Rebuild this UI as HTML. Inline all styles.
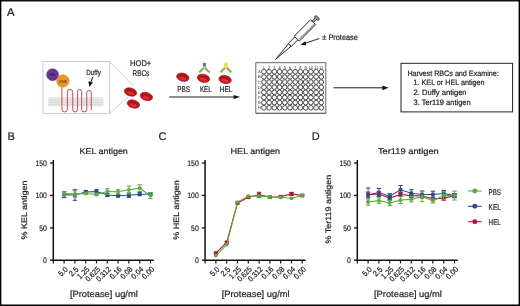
<!DOCTYPE html>
<html><head><meta charset="utf-8"><style>
html,body{margin:0;padding:0;background:#fff;width:520px;height:306px;overflow:hidden;}
svg{display:block;will-change:transform;}
text{font-family:"Liberation Sans",sans-serif;fill:#231f20;stroke:#231f20;stroke-width:0.22px;}
</style></head><body>
<svg width="520" height="306" viewBox="0 0 520 306" text-rendering="geometricPrecision">
<rect x="0" y="0" width="520" height="306" fill="#fff"/>

<rect x="0" y="0" width="520" height="1.5" fill="#111"/>
<rect x="0" y="304.5" width="520" height="1.5" fill="#000"/>
<rect x="0" y="0" width="1.35" height="306" fill="#000"/>
<rect x="518.6" y="0" width="1.4" height="306" fill="#000"/>
<text x="6.9" y="16.2" font-size="11.3" >A</text>
<text x="7.5" y="140.1" font-size="11.0" >B</text>
<text x="158.6" y="140.0" font-size="11.0" >C</text>
<text x="311.7" y="140.0" font-size="11.0" >D</text>
<rect x="43" y="61.5" width="66.5" height="52" fill="none" stroke="#b9c8e6" stroke-width="0.9"/>
<line x1="109.5" y1="61.5" x2="134" y2="86.6" stroke="#b9c8e6" stroke-width="0.9"/>
<line x1="109.5" y1="113.5" x2="128.5" y2="96.5" stroke="#b9c8e6" stroke-width="0.9"/>
<defs><pattern id="mem" x="0" y="0" width="1.7" height="2.3" patternUnits="userSpaceOnUse"><circle cx="0.85" cy="1.15" r="0.55" fill="#cdcdcd"/></pattern></defs>
<rect x="48.4" y="97.2" width="55" height="9.2" fill="#e6e6e6"/>
<rect x="48.4" y="98.1" width="55" height="7.4" fill="url(#mem)"/>
<path d="M61.9 86 V109.15 A2.75 2.75 0 0 0 67.4 109.15 V92.1 A2.675 2.675 0 0 1 72.75 92.1 V109.5 A2.425 2.425 0 0 0 77.6 109.5 V91.4 A2 2 0 0 1 81.6 91.4 V109.3 A2.575 2.575 0 0 0 86.75 109.3 V92.75 A2.25 2.25 0 0 1 91.25 92.75 V110.3" fill="none" stroke="#c94a55" stroke-width="1"/>
<circle cx="52.6" cy="74.7" r="6" fill="#663692" stroke="#582a82" stroke-width="0.5"/>
<circle cx="62.9" cy="81.0" r="6.2" fill="#e8961f" stroke="#d8861a" stroke-width="0.5"/>
<text x="52.5" y="76.4" font-size="4.3" textLength="6.6" lengthAdjust="spacingAndGlyphs" text-anchor="middle" fill="#2a1838" style="stroke:none">HEL</text>
<text x="62.9" y="82.6" font-size="4.3" textLength="7.6" lengthAdjust="spacingAndGlyphs" text-anchor="middle" fill="#4a2a08" style="stroke:none">OVA</text>
<text x="86.3" y="74.7" font-size="7.4" textLength="14.5" lengthAdjust="spacingAndGlyphs" >Duffy</text>
<line x1="92.8" y1="76.8" x2="90.8" y2="82.4" stroke="#111" stroke-width="1.0"/>
<path d="M88.4 81.3 L89.3 87.0 L92.9 82.6 Z" fill="#111"/>
<g transform="translate(130.5 92) rotate(15)"><ellipse cx="0" cy="0" rx="6.3" ry="4.0" fill="#c4181f" stroke="#990d13" stroke-width="0.6"/><ellipse cx="0.2" cy="1.2" rx="3.4650000000000003" ry="1.52" fill="#d83a3c" opacity="0.7"/><path d="M-4.284 0.2 A4.284 2.2 0 0 1 4.284 0.2" fill="none" stroke="#8f0b10" stroke-width="0.8"/></g>
<g transform="translate(146.4 96.5) rotate(15)"><ellipse cx="0" cy="0" rx="6.3" ry="4.0" fill="#c4181f" stroke="#990d13" stroke-width="0.6"/><ellipse cx="0.2" cy="1.2" rx="3.4650000000000003" ry="1.52" fill="#d83a3c" opacity="0.7"/><path d="M-4.284 0.2 A4.284 2.2 0 0 1 4.284 0.2" fill="none" stroke="#8f0b10" stroke-width="0.8"/></g>
<g transform="translate(133.4 104) rotate(15)"><ellipse cx="0" cy="0" rx="6.3" ry="4.0" fill="#c4181f" stroke="#990d13" stroke-width="0.6"/><ellipse cx="0.2" cy="1.2" rx="3.4650000000000003" ry="1.52" fill="#d83a3c" opacity="0.7"/><path d="M-4.284 0.2 A4.284 2.2 0 0 1 4.284 0.2" fill="none" stroke="#8f0b10" stroke-width="0.8"/></g>
<text x="140.7" y="66.3" font-size="8.3" textLength="21.2" lengthAdjust="spacingAndGlyphs" text-anchor="middle" >HOD+</text>
<text x="140.9" y="76.1" font-size="8.3" textLength="16.7" lengthAdjust="spacingAndGlyphs" text-anchor="middle" >RBCs</text>
<g transform="translate(182.8 77.2) rotate(14)"><ellipse cx="0" cy="0" rx="6.3" ry="4.0" fill="#c4181f" stroke="#990d13" stroke-width="0.6"/><ellipse cx="0.2" cy="1.2" rx="3.4650000000000003" ry="1.52" fill="#d83a3c" opacity="0.7"/><path d="M-4.284 0.2 A4.284 2.2 0 0 1 4.284 0.2" fill="none" stroke="#8f0b10" stroke-width="0.8"/></g>
<g transform="translate(203.5 78.3) rotate(12)"><ellipse cx="0" cy="0" rx="6.3" ry="4.0" fill="#c4181f" stroke="#990d13" stroke-width="0.6"/><ellipse cx="0.2" cy="1.2" rx="3.4650000000000003" ry="1.52" fill="#d83a3c" opacity="0.7"/><path d="M-4.284 0.2 A4.284 2.2 0 0 1 4.284 0.2" fill="none" stroke="#8f0b10" stroke-width="0.8"/></g>
<g transform="translate(225.1 79.5) rotate(12)"><ellipse cx="0" cy="0" rx="6.3" ry="4.0" fill="#c4181f" stroke="#990d13" stroke-width="0.6"/><ellipse cx="0.2" cy="1.2" rx="3.4650000000000003" ry="1.52" fill="#d83a3c" opacity="0.7"/><path d="M-4.284 0.2 A4.284 2.2 0 0 1 4.284 0.2" fill="none" stroke="#8f0b10" stroke-width="0.8"/></g>
<text x="177.2" y="91.9" font-size="8.2" textLength="12.8" lengthAdjust="spacingAndGlyphs" >PBS</text>
<text x="200" y="91.9" font-size="8.2" textLength="11.6" lengthAdjust="spacingAndGlyphs" >KEL</text>
<text x="219.7" y="91.9" font-size="8.2" textLength="12.8" lengthAdjust="spacingAndGlyphs" >HEL</text>
<g><rect x="202.9" y="62.9" width="3.0" height="5.8" fill="#4a78c0"/><rect x="202.9" y="66.3" width="3.0" height="2.4" fill="#a9bfe0"/><line x1="203.5" y1="68.2" x2="199.1" y2="72.5" stroke="#80b460" stroke-width="2.2"/><line x1="205.3" y1="68.2" x2="209.70000000000002" y2="72.5" stroke="#80b460" stroke-width="2.2"/><line x1="203.1" y1="68.3" x2="201.6" y2="69.8" stroke="#e39a3a" stroke-width="1.9"/><line x1="205.70000000000002" y1="68.3" x2="207.20000000000002" y2="69.8" stroke="#e39a3a" stroke-width="1.9"/><line x1="204.20000000000002" y1="68.1" x2="204.20000000000002" y2="69.3" stroke="#ffffff" stroke-width="0.8" opacity="0.7"/></g>
<g><rect x="224.4" y="62.6" width="3.0" height="5.8" fill="#e8d82a"/><rect x="224.4" y="66.0" width="3.0" height="2.4" fill="#efe48a"/><line x1="225.0" y1="67.9" x2="220.6" y2="72.2" stroke="#80b460" stroke-width="2.2"/><line x1="226.8" y1="67.9" x2="231.20000000000002" y2="72.2" stroke="#80b460" stroke-width="2.2"/><line x1="224.6" y1="68.0" x2="223.1" y2="69.5" stroke="#e39a3a" stroke-width="1.9"/><line x1="227.20000000000002" y1="68.0" x2="228.70000000000002" y2="69.5" stroke="#e39a3a" stroke-width="1.9"/><line x1="225.70000000000002" y1="67.8" x2="225.70000000000002" y2="69.0" stroke="#ffffff" stroke-width="0.8" opacity="0.7"/></g>
<line x1="169.2" y1="97" x2="235" y2="97" stroke="#111" stroke-width="0.95"/>
<path d="M233.6 94.9 L240.2 97 L233.6 99.1 Z" fill="#111"/>
<rect x="255.8" y="62.7" width="70" height="50.5" fill="#fff" stroke="#555" stroke-width="0.9"/>
<line x1="256" y1="113.4" x2="326" y2="113.4" stroke="#666" stroke-width="0.9"/>
<text x="263.9" y="68.5" font-size="4.0" text-anchor="middle" fill="#222" style="stroke:none">1</text>
<circle cx="263.90" cy="71.75" r="2.3" fill="none" stroke="#363636" stroke-width="0.9"/>
<circle cx="263.90" cy="76.90" r="2.3" fill="none" stroke="#363636" stroke-width="0.9"/>
<circle cx="263.90" cy="82.05" r="2.3" fill="none" stroke="#363636" stroke-width="0.9"/>
<circle cx="263.90" cy="87.20" r="2.3" fill="none" stroke="#363636" stroke-width="0.9"/>
<circle cx="263.90" cy="92.35" r="2.3" fill="none" stroke="#363636" stroke-width="0.9"/>
<circle cx="263.90" cy="97.50" r="2.3" fill="none" stroke="#363636" stroke-width="0.9"/>
<circle cx="263.90" cy="102.65" r="2.3" fill="none" stroke="#363636" stroke-width="0.9"/>
<circle cx="263.90" cy="107.80" r="2.3" fill="none" stroke="#363636" stroke-width="0.9"/>
<text x="269.12" y="68.5" font-size="4.0" text-anchor="middle" fill="#222" style="stroke:none">2</text>
<circle cx="269.12" cy="71.75" r="2.3" fill="none" stroke="#363636" stroke-width="0.9"/>
<circle cx="269.12" cy="76.90" r="2.3" fill="none" stroke="#363636" stroke-width="0.9"/>
<circle cx="269.12" cy="82.05" r="2.3" fill="none" stroke="#363636" stroke-width="0.9"/>
<circle cx="269.12" cy="87.20" r="2.3" fill="none" stroke="#363636" stroke-width="0.9"/>
<circle cx="269.12" cy="92.35" r="2.3" fill="none" stroke="#363636" stroke-width="0.9"/>
<circle cx="269.12" cy="97.50" r="2.3" fill="none" stroke="#363636" stroke-width="0.9"/>
<circle cx="269.12" cy="102.65" r="2.3" fill="none" stroke="#363636" stroke-width="0.9"/>
<circle cx="269.12" cy="107.80" r="2.3" fill="none" stroke="#363636" stroke-width="0.9"/>
<text x="274.34" y="68.5" font-size="4.0" text-anchor="middle" fill="#222" style="stroke:none">3</text>
<circle cx="274.34" cy="71.75" r="2.3" fill="none" stroke="#363636" stroke-width="0.9"/>
<circle cx="274.34" cy="76.90" r="2.3" fill="none" stroke="#363636" stroke-width="0.9"/>
<circle cx="274.34" cy="82.05" r="2.3" fill="none" stroke="#363636" stroke-width="0.9"/>
<circle cx="274.34" cy="87.20" r="2.3" fill="none" stroke="#363636" stroke-width="0.9"/>
<circle cx="274.34" cy="92.35" r="2.3" fill="none" stroke="#363636" stroke-width="0.9"/>
<circle cx="274.34" cy="97.50" r="2.3" fill="none" stroke="#363636" stroke-width="0.9"/>
<circle cx="274.34" cy="102.65" r="2.3" fill="none" stroke="#363636" stroke-width="0.9"/>
<circle cx="274.34" cy="107.80" r="2.3" fill="none" stroke="#363636" stroke-width="0.9"/>
<text x="279.56" y="68.5" font-size="4.0" text-anchor="middle" fill="#222" style="stroke:none">4</text>
<circle cx="279.56" cy="71.75" r="2.3" fill="none" stroke="#363636" stroke-width="0.9"/>
<circle cx="279.56" cy="76.90" r="2.3" fill="none" stroke="#363636" stroke-width="0.9"/>
<circle cx="279.56" cy="82.05" r="2.3" fill="none" stroke="#363636" stroke-width="0.9"/>
<circle cx="279.56" cy="87.20" r="2.3" fill="none" stroke="#363636" stroke-width="0.9"/>
<circle cx="279.56" cy="92.35" r="2.3" fill="none" stroke="#363636" stroke-width="0.9"/>
<circle cx="279.56" cy="97.50" r="2.3" fill="none" stroke="#363636" stroke-width="0.9"/>
<circle cx="279.56" cy="102.65" r="2.3" fill="none" stroke="#363636" stroke-width="0.9"/>
<circle cx="279.56" cy="107.80" r="2.3" fill="none" stroke="#363636" stroke-width="0.9"/>
<text x="284.78" y="68.5" font-size="4.0" text-anchor="middle" fill="#222" style="stroke:none">5</text>
<circle cx="284.78" cy="71.75" r="2.3" fill="none" stroke="#363636" stroke-width="0.9"/>
<circle cx="284.78" cy="76.90" r="2.3" fill="none" stroke="#363636" stroke-width="0.9"/>
<circle cx="284.78" cy="82.05" r="2.3" fill="none" stroke="#363636" stroke-width="0.9"/>
<circle cx="284.78" cy="87.20" r="2.3" fill="none" stroke="#363636" stroke-width="0.9"/>
<circle cx="284.78" cy="92.35" r="2.3" fill="none" stroke="#363636" stroke-width="0.9"/>
<circle cx="284.78" cy="97.50" r="2.3" fill="none" stroke="#363636" stroke-width="0.9"/>
<circle cx="284.78" cy="102.65" r="2.3" fill="none" stroke="#363636" stroke-width="0.9"/>
<circle cx="284.78" cy="107.80" r="2.3" fill="none" stroke="#363636" stroke-width="0.9"/>
<text x="290.0" y="68.5" font-size="4.0" text-anchor="middle" fill="#222" style="stroke:none">6</text>
<circle cx="290.00" cy="71.75" r="2.3" fill="none" stroke="#363636" stroke-width="0.9"/>
<circle cx="290.00" cy="76.90" r="2.3" fill="none" stroke="#363636" stroke-width="0.9"/>
<circle cx="290.00" cy="82.05" r="2.3" fill="none" stroke="#363636" stroke-width="0.9"/>
<circle cx="290.00" cy="87.20" r="2.3" fill="none" stroke="#363636" stroke-width="0.9"/>
<circle cx="290.00" cy="92.35" r="2.3" fill="none" stroke="#363636" stroke-width="0.9"/>
<circle cx="290.00" cy="97.50" r="2.3" fill="none" stroke="#363636" stroke-width="0.9"/>
<circle cx="290.00" cy="102.65" r="2.3" fill="none" stroke="#363636" stroke-width="0.9"/>
<circle cx="290.00" cy="107.80" r="2.3" fill="none" stroke="#363636" stroke-width="0.9"/>
<text x="295.21999999999997" y="68.5" font-size="4.0" text-anchor="middle" fill="#222" style="stroke:none">7</text>
<circle cx="295.22" cy="71.75" r="2.3" fill="none" stroke="#363636" stroke-width="0.9"/>
<circle cx="295.22" cy="76.90" r="2.3" fill="none" stroke="#363636" stroke-width="0.9"/>
<circle cx="295.22" cy="82.05" r="2.3" fill="none" stroke="#363636" stroke-width="0.9"/>
<circle cx="295.22" cy="87.20" r="2.3" fill="none" stroke="#363636" stroke-width="0.9"/>
<circle cx="295.22" cy="92.35" r="2.3" fill="none" stroke="#363636" stroke-width="0.9"/>
<circle cx="295.22" cy="97.50" r="2.3" fill="none" stroke="#363636" stroke-width="0.9"/>
<circle cx="295.22" cy="102.65" r="2.3" fill="none" stroke="#363636" stroke-width="0.9"/>
<circle cx="295.22" cy="107.80" r="2.3" fill="none" stroke="#363636" stroke-width="0.9"/>
<text x="300.44" y="68.5" font-size="4.0" text-anchor="middle" fill="#222" style="stroke:none">8</text>
<circle cx="300.44" cy="71.75" r="2.3" fill="none" stroke="#363636" stroke-width="0.9"/>
<circle cx="300.44" cy="76.90" r="2.3" fill="none" stroke="#363636" stroke-width="0.9"/>
<circle cx="300.44" cy="82.05" r="2.3" fill="none" stroke="#363636" stroke-width="0.9"/>
<circle cx="300.44" cy="87.20" r="2.3" fill="none" stroke="#363636" stroke-width="0.9"/>
<circle cx="300.44" cy="92.35" r="2.3" fill="none" stroke="#363636" stroke-width="0.9"/>
<circle cx="300.44" cy="97.50" r="2.3" fill="none" stroke="#363636" stroke-width="0.9"/>
<circle cx="300.44" cy="102.65" r="2.3" fill="none" stroke="#363636" stroke-width="0.9"/>
<circle cx="300.44" cy="107.80" r="2.3" fill="none" stroke="#363636" stroke-width="0.9"/>
<text x="305.65999999999997" y="68.5" font-size="4.0" text-anchor="middle" fill="#222" style="stroke:none">9</text>
<circle cx="305.66" cy="71.75" r="2.3" fill="none" stroke="#363636" stroke-width="0.9"/>
<circle cx="305.66" cy="76.90" r="2.3" fill="none" stroke="#363636" stroke-width="0.9"/>
<circle cx="305.66" cy="82.05" r="2.3" fill="none" stroke="#363636" stroke-width="0.9"/>
<circle cx="305.66" cy="87.20" r="2.3" fill="none" stroke="#363636" stroke-width="0.9"/>
<circle cx="305.66" cy="92.35" r="2.3" fill="none" stroke="#363636" stroke-width="0.9"/>
<circle cx="305.66" cy="97.50" r="2.3" fill="none" stroke="#363636" stroke-width="0.9"/>
<circle cx="305.66" cy="102.65" r="2.3" fill="none" stroke="#363636" stroke-width="0.9"/>
<circle cx="305.66" cy="107.80" r="2.3" fill="none" stroke="#363636" stroke-width="0.9"/>
<text x="310.88" y="68.5" font-size="4.0" text-anchor="middle" fill="#222" style="stroke:none">10</text>
<circle cx="310.88" cy="71.75" r="2.3" fill="none" stroke="#363636" stroke-width="0.9"/>
<circle cx="310.88" cy="76.90" r="2.3" fill="none" stroke="#363636" stroke-width="0.9"/>
<circle cx="310.88" cy="82.05" r="2.3" fill="none" stroke="#363636" stroke-width="0.9"/>
<circle cx="310.88" cy="87.20" r="2.3" fill="none" stroke="#363636" stroke-width="0.9"/>
<circle cx="310.88" cy="92.35" r="2.3" fill="none" stroke="#363636" stroke-width="0.9"/>
<circle cx="310.88" cy="97.50" r="2.3" fill="none" stroke="#363636" stroke-width="0.9"/>
<circle cx="310.88" cy="102.65" r="2.3" fill="none" stroke="#363636" stroke-width="0.9"/>
<circle cx="310.88" cy="107.80" r="2.3" fill="none" stroke="#363636" stroke-width="0.9"/>
<text x="316.09999999999997" y="68.5" font-size="4.0" text-anchor="middle" fill="#222" style="stroke:none">11</text>
<circle cx="316.10" cy="71.75" r="2.3" fill="none" stroke="#363636" stroke-width="0.9"/>
<circle cx="316.10" cy="76.90" r="2.3" fill="none" stroke="#363636" stroke-width="0.9"/>
<circle cx="316.10" cy="82.05" r="2.3" fill="none" stroke="#363636" stroke-width="0.9"/>
<circle cx="316.10" cy="87.20" r="2.3" fill="none" stroke="#363636" stroke-width="0.9"/>
<circle cx="316.10" cy="92.35" r="2.3" fill="none" stroke="#363636" stroke-width="0.9"/>
<circle cx="316.10" cy="97.50" r="2.3" fill="none" stroke="#363636" stroke-width="0.9"/>
<circle cx="316.10" cy="102.65" r="2.3" fill="none" stroke="#363636" stroke-width="0.9"/>
<circle cx="316.10" cy="107.80" r="2.3" fill="none" stroke="#363636" stroke-width="0.9"/>
<text x="321.32" y="68.5" font-size="4.0" text-anchor="middle" fill="#222" style="stroke:none">12</text>
<circle cx="321.32" cy="71.75" r="2.3" fill="none" stroke="#363636" stroke-width="0.9"/>
<circle cx="321.32" cy="76.90" r="2.3" fill="none" stroke="#363636" stroke-width="0.9"/>
<circle cx="321.32" cy="82.05" r="2.3" fill="none" stroke="#363636" stroke-width="0.9"/>
<circle cx="321.32" cy="87.20" r="2.3" fill="none" stroke="#363636" stroke-width="0.9"/>
<circle cx="321.32" cy="92.35" r="2.3" fill="none" stroke="#363636" stroke-width="0.9"/>
<circle cx="321.32" cy="97.50" r="2.3" fill="none" stroke="#363636" stroke-width="0.9"/>
<circle cx="321.32" cy="102.65" r="2.3" fill="none" stroke="#363636" stroke-width="0.9"/>
<circle cx="321.32" cy="107.80" r="2.3" fill="none" stroke="#363636" stroke-width="0.9"/>
<text x="259.3" y="73.25" font-size="4.2" text-anchor="middle" fill="#222" style="stroke:none">A</text>
<text x="259.3" y="78.4" font-size="4.2" text-anchor="middle" fill="#222" style="stroke:none">B</text>
<text x="259.3" y="83.55" font-size="4.2" text-anchor="middle" fill="#222" style="stroke:none">C</text>
<text x="259.3" y="88.7" font-size="4.2" text-anchor="middle" fill="#222" style="stroke:none">D</text>
<text x="259.3" y="93.85" font-size="4.2" text-anchor="middle" fill="#222" style="stroke:none">E</text>
<text x="259.3" y="99.0" font-size="4.2" text-anchor="middle" fill="#222" style="stroke:none">F</text>
<text x="259.3" y="104.15" font-size="4.2" text-anchor="middle" fill="#222" style="stroke:none">G</text>
<text x="259.3" y="109.30000000000001" font-size="4.2" text-anchor="middle" fill="#222" style="stroke:none">H</text>
<g transform="translate(275.3 59.6) rotate(-45.27)" fill="#fff" stroke="#1c1c1c" stroke-width="0.9" stroke-linejoin="round">
<path d="M0.3 0 L20.6 -1.75 L20.6 1.75 Z"/>
<line x1="11" y1="-0.75" x2="11" y2="0.75" stroke-width="0.6"/>
<rect x="20.6" y="-2.1" width="9.4" height="4.2"/>
<rect x="30" y="-3.0" width="23.2" height="7.1"/>
<line x1="31.2" y1="2.75" x2="53.2" y2="2.75" stroke-width="0.7"/>
<line x1="31.2" y1="3.45" x2="53.2" y2="3.45" stroke="#777" stroke-width="0.5" stroke-dasharray="0.5 0.5"/>
<rect x="53.2" y="-0.9" width="4.6" height="1.8"/>
<line x1="54.2" y1="-0.9" x2="54.2" y2="0.9" stroke-width="0.5"/><line x1="55.2" y1="-0.9" x2="55.2" y2="0.9" stroke-width="0.5"/><line x1="56.2" y1="-0.9" x2="56.2" y2="0.9" stroke-width="0.5"/>
<ellipse cx="58.9" cy="0.3" rx="1.3" ry="2.8"/>
<ellipse cx="58.9" cy="0.3" rx="0.5" ry="1.5" stroke-width="0.5"/>
</g>
<line x1="319.3" y1="38.5" x2="304" y2="43.6" stroke="#111" stroke-width="0.9"/>
<path d="M300.5 44.8 L305.3 41.2 L306.2 45.3 Z" fill="#111"/>
<text x="322.3" y="40.1" font-size="8" textLength="35.6" lengthAdjust="spacingAndGlyphs" >± Protease</text>
<line x1="333.5" y1="87.8" x2="384" y2="87.8" stroke="#1a1a1a" stroke-width="1.0"/>
<path d="M382.4 85.4 L388.4 87.8 L382.4 90.2 Z" fill="#111"/>
<rect x="401" y="63.3" width="111.6" height="48.6" fill="none" stroke="#222" stroke-width="1"/>
<text x="407.4" y="75.6" font-size="7.8" textLength="91.4" lengthAdjust="spacingAndGlyphs" >Harvest RBCs and Examine:</text>
<text x="413.6" y="85.4" font-size="7.8" textLength="70.9" lengthAdjust="spacingAndGlyphs" >1. KEL or HEL antigen</text>
<text x="413.6" y="95.2" font-size="7.8" textLength="53" lengthAdjust="spacingAndGlyphs" >2. Duffy antigen</text>
<text x="413.6" y="104.9" font-size="7.8" textLength="57" lengthAdjust="spacingAndGlyphs" >3. Ter119 antigen</text>
<line x1="53.3" y1="160" x2="53.3" y2="260.9" stroke="#111" stroke-width="1.5"/>
<line x1="52.55" y1="260.2" x2="153.8" y2="260.2" stroke="#111" stroke-width="1.5"/>
<line x1="50.0" y1="163" x2="53.3" y2="163" stroke="#111" stroke-width="1.3"/>
<text x="46.949999999999996" y="165.85" font-size="8.0" textLength="11.55" lengthAdjust="spacingAndGlyphs" text-anchor="end" >150</text>
<line x1="50.0" y1="195.4" x2="53.3" y2="195.4" stroke="#111" stroke-width="1.3"/>
<text x="46.949999999999996" y="198.25" font-size="8.0" textLength="11.55" lengthAdjust="spacingAndGlyphs" text-anchor="end" >100</text>
<line x1="50.0" y1="227.9" x2="53.3" y2="227.9" stroke="#111" stroke-width="1.3"/>
<text x="46.949999999999996" y="230.75" font-size="8.0" textLength="7.7" lengthAdjust="spacingAndGlyphs" text-anchor="end" >50</text>
<line x1="50.0" y1="260.2" x2="53.3" y2="260.2" stroke="#111" stroke-width="1.3"/>
<text x="46.949999999999996" y="263.05" font-size="8.0" textLength="3.85" lengthAdjust="spacingAndGlyphs" text-anchor="end" >0</text>
<line x1="64.10" y1="260.2" x2="64.10" y2="263.4" stroke="#111" stroke-width="1.2"/>
<line x1="74.90" y1="260.2" x2="74.90" y2="263.4" stroke="#111" stroke-width="1.2"/>
<line x1="85.70" y1="260.2" x2="85.70" y2="263.4" stroke="#111" stroke-width="1.2"/>
<line x1="96.50" y1="260.2" x2="96.50" y2="263.4" stroke="#111" stroke-width="1.2"/>
<line x1="107.30" y1="260.2" x2="107.30" y2="263.4" stroke="#111" stroke-width="1.2"/>
<line x1="118.10" y1="260.2" x2="118.10" y2="263.4" stroke="#111" stroke-width="1.2"/>
<line x1="128.90" y1="260.2" x2="128.90" y2="263.4" stroke="#111" stroke-width="1.2"/>
<line x1="139.70" y1="260.2" x2="139.70" y2="263.4" stroke="#111" stroke-width="1.2"/>
<line x1="150.50" y1="260.2" x2="150.50" y2="263.4" stroke="#111" stroke-width="1.2"/>
<line x1="53.3" y1="260.2" x2="53.3" y2="263.4" stroke="#111" stroke-width="1.2"/>
<text transform="translate(68.30 269.8) rotate(-45)" font-size="7.8" text-anchor="end" textLength="10" lengthAdjust="spacingAndGlyphs">5.0</text>
<text transform="translate(79.10 269.8) rotate(-45)" font-size="7.8" text-anchor="end" textLength="10" lengthAdjust="spacingAndGlyphs">2.5</text>
<text transform="translate(89.90 269.8) rotate(-45)" font-size="7.8" text-anchor="end" textLength="13.6" lengthAdjust="spacingAndGlyphs">1.25</text>
<text transform="translate(100.70 269.8) rotate(-45)" font-size="7.8" text-anchor="end" textLength="17.3" lengthAdjust="spacingAndGlyphs">0.625</text>
<text transform="translate(111.50 269.8) rotate(-45)" font-size="7.8" text-anchor="end" textLength="17.3" lengthAdjust="spacingAndGlyphs">0.312</text>
<text transform="translate(122.30 269.8) rotate(-45)" font-size="7.8" text-anchor="end" textLength="13.6" lengthAdjust="spacingAndGlyphs">0.16</text>
<text transform="translate(133.10 269.8) rotate(-45)" font-size="7.8" text-anchor="end" textLength="13.6" lengthAdjust="spacingAndGlyphs">0.08</text>
<text transform="translate(143.90 269.8) rotate(-45)" font-size="7.8" text-anchor="end" textLength="13.6" lengthAdjust="spacingAndGlyphs">0.04</text>
<text transform="translate(154.70 269.8) rotate(-45)" font-size="7.8" text-anchor="end" textLength="13.6" lengthAdjust="spacingAndGlyphs">0.00</text>
<text x="79.6" y="154.3" font-size="8.3" textLength="48.2" lengthAdjust="spacingAndGlyphs" >KEL antigen</text>
<text x="69.9" y="297.3" font-size="9" textLength="67.9" lengthAdjust="spacingAndGlyphs" >[Protease] ug/ml</text>
<text transform="translate(27.199999999999996 210.0) rotate(-90)" font-size="8" text-anchor="middle" textLength="59.2" lengthAdjust="spacingAndGlyphs">% KEL antigen</text>
<polyline points="64.10,194.6 74.90,195 85.70,192 96.50,191.6 107.30,195 118.10,195.8 128.90,195.2 139.70,194.2 150.50,194.2" fill="none" stroke="#2a4b8d" stroke-width="1.1"/>
<line x1="64.10" y1="191.6" x2="64.10" y2="197.6" stroke="#2a4b8d" stroke-width="0.9"/>
<line x1="61.90" y1="191.6" x2="66.30" y2="191.6" stroke="#2a4b8d" stroke-width="1.1"/>
<line x1="61.90" y1="197.6" x2="66.30" y2="197.6" stroke="#2a4b8d" stroke-width="1.1"/>
<rect x="62.30" y="192.79999999999998" width="3.6" height="3.6" fill="#2a4b8d"/>
<line x1="74.90" y1="189.7" x2="74.90" y2="200.3" stroke="#2a4b8d" stroke-width="0.9"/>
<line x1="72.70" y1="189.7" x2="77.10" y2="189.7" stroke="#2a4b8d" stroke-width="1.1"/>
<line x1="72.70" y1="200.3" x2="77.10" y2="200.3" stroke="#2a4b8d" stroke-width="1.1"/>
<rect x="73.10" y="193.2" width="3.6" height="3.6" fill="#2a4b8d"/>
<line x1="85.70" y1="190.5" x2="85.70" y2="193.5" stroke="#2a4b8d" stroke-width="0.9"/>
<line x1="83.50" y1="190.5" x2="87.90" y2="190.5" stroke="#2a4b8d" stroke-width="1.1"/>
<line x1="83.50" y1="193.5" x2="87.90" y2="193.5" stroke="#2a4b8d" stroke-width="1.1"/>
<rect x="83.90" y="190.2" width="3.6" height="3.6" fill="#2a4b8d"/>
<line x1="96.50" y1="189.6" x2="96.50" y2="193.6" stroke="#2a4b8d" stroke-width="0.9"/>
<line x1="94.30" y1="189.6" x2="98.70" y2="189.6" stroke="#2a4b8d" stroke-width="1.1"/>
<line x1="94.30" y1="193.6" x2="98.70" y2="193.6" stroke="#2a4b8d" stroke-width="1.1"/>
<rect x="94.70" y="189.79999999999998" width="3.6" height="3.6" fill="#2a4b8d"/>
<line x1="107.30" y1="193.5" x2="107.30" y2="196.5" stroke="#2a4b8d" stroke-width="0.9"/>
<line x1="105.10" y1="193.5" x2="109.50" y2="193.5" stroke="#2a4b8d" stroke-width="1.1"/>
<line x1="105.10" y1="196.5" x2="109.50" y2="196.5" stroke="#2a4b8d" stroke-width="1.1"/>
<rect x="105.50" y="193.2" width="3.6" height="3.6" fill="#2a4b8d"/>
<line x1="118.10" y1="194.60000000000002" x2="118.10" y2="197.0" stroke="#2a4b8d" stroke-width="0.9"/>
<line x1="115.90" y1="194.60000000000002" x2="120.30" y2="194.60000000000002" stroke="#2a4b8d" stroke-width="1.1"/>
<line x1="115.90" y1="197.0" x2="120.30" y2="197.0" stroke="#2a4b8d" stroke-width="1.1"/>
<rect x="116.30" y="194.0" width="3.6" height="3.6" fill="#2a4b8d"/>
<line x1="128.90" y1="193.0" x2="128.90" y2="197.39999999999998" stroke="#2a4b8d" stroke-width="0.9"/>
<line x1="126.70" y1="193.0" x2="131.10" y2="193.0" stroke="#2a4b8d" stroke-width="1.1"/>
<line x1="126.70" y1="197.39999999999998" x2="131.10" y2="197.39999999999998" stroke="#2a4b8d" stroke-width="1.1"/>
<rect x="127.10" y="193.39999999999998" width="3.6" height="3.6" fill="#2a4b8d"/>
<line x1="139.70" y1="192.7" x2="139.70" y2="195.7" stroke="#2a4b8d" stroke-width="0.9"/>
<line x1="137.50" y1="192.7" x2="141.90" y2="192.7" stroke="#2a4b8d" stroke-width="1.1"/>
<line x1="137.50" y1="195.7" x2="141.90" y2="195.7" stroke="#2a4b8d" stroke-width="1.1"/>
<rect x="137.90" y="192.39999999999998" width="3.6" height="3.6" fill="#2a4b8d"/>
<line x1="150.50" y1="193.2" x2="150.50" y2="195.2" stroke="#2a4b8d" stroke-width="0.9"/>
<line x1="148.30" y1="193.2" x2="152.70" y2="193.2" stroke="#2a4b8d" stroke-width="1.1"/>
<line x1="148.30" y1="195.2" x2="152.70" y2="195.2" stroke="#2a4b8d" stroke-width="1.1"/>
<rect x="148.70" y="192.39999999999998" width="3.6" height="3.6" fill="#2a4b8d"/>
<polyline points="64.10,193.5 74.90,194 85.70,193.5 96.50,194.5 107.30,191.5 118.10,191.8 128.90,189.8 139.70,188.2 150.50,195.6" fill="none" stroke="#5bab3f" stroke-width="1.1"/>
<line x1="64.10" y1="191.7" x2="64.10" y2="195.3" stroke="#5bab3f" stroke-width="0.9"/>
<line x1="61.90" y1="191.7" x2="66.30" y2="191.7" stroke="#5bab3f" stroke-width="1.1"/>
<line x1="61.90" y1="195.3" x2="66.30" y2="195.3" stroke="#5bab3f" stroke-width="1.1"/>
<circle cx="64.10" cy="193.5" r="1.9" fill="#5bab3f"/>
<line x1="74.90" y1="190.8" x2="74.90" y2="197.2" stroke="#5bab3f" stroke-width="0.9"/>
<line x1="72.70" y1="190.8" x2="77.10" y2="190.8" stroke="#5bab3f" stroke-width="1.1"/>
<line x1="72.70" y1="197.2" x2="77.10" y2="197.2" stroke="#5bab3f" stroke-width="1.1"/>
<circle cx="74.90" cy="194" r="1.9" fill="#5bab3f"/>
<line x1="85.70" y1="192.7" x2="85.70" y2="194.3" stroke="#5bab3f" stroke-width="0.9"/>
<line x1="83.50" y1="192.7" x2="87.90" y2="192.7" stroke="#5bab3f" stroke-width="1.1"/>
<line x1="83.50" y1="194.3" x2="87.90" y2="194.3" stroke="#5bab3f" stroke-width="1.1"/>
<circle cx="85.70" cy="193.5" r="1.9" fill="#5bab3f"/>
<line x1="96.50" y1="193.5" x2="96.50" y2="195.5" stroke="#5bab3f" stroke-width="0.9"/>
<line x1="94.30" y1="193.5" x2="98.70" y2="193.5" stroke="#5bab3f" stroke-width="1.1"/>
<line x1="94.30" y1="195.5" x2="98.70" y2="195.5" stroke="#5bab3f" stroke-width="1.1"/>
<circle cx="96.50" cy="194.5" r="1.9" fill="#5bab3f"/>
<line x1="107.30" y1="188.8" x2="107.30" y2="194.2" stroke="#5bab3f" stroke-width="0.9"/>
<line x1="105.10" y1="188.8" x2="109.50" y2="188.8" stroke="#5bab3f" stroke-width="1.1"/>
<line x1="105.10" y1="194.2" x2="109.50" y2="194.2" stroke="#5bab3f" stroke-width="1.1"/>
<circle cx="107.30" cy="191.5" r="1.9" fill="#5bab3f"/>
<line x1="118.10" y1="189.60000000000002" x2="118.10" y2="194.0" stroke="#5bab3f" stroke-width="0.9"/>
<line x1="115.90" y1="189.60000000000002" x2="120.30" y2="189.60000000000002" stroke="#5bab3f" stroke-width="1.1"/>
<line x1="115.90" y1="194.0" x2="120.30" y2="194.0" stroke="#5bab3f" stroke-width="1.1"/>
<circle cx="118.10" cy="191.8" r="1.9" fill="#5bab3f"/>
<line x1="128.90" y1="186.10000000000002" x2="128.90" y2="193.5" stroke="#5bab3f" stroke-width="0.9"/>
<line x1="126.70" y1="186.10000000000002" x2="131.10" y2="186.10000000000002" stroke="#5bab3f" stroke-width="1.1"/>
<line x1="126.70" y1="193.5" x2="131.10" y2="193.5" stroke="#5bab3f" stroke-width="1.1"/>
<circle cx="128.90" cy="189.8" r="1.9" fill="#5bab3f"/>
<line x1="139.70" y1="184.79999999999998" x2="139.70" y2="191.6" stroke="#5bab3f" stroke-width="0.9"/>
<line x1="137.50" y1="184.79999999999998" x2="141.90" y2="184.79999999999998" stroke="#5bab3f" stroke-width="1.1"/>
<line x1="137.50" y1="191.6" x2="141.90" y2="191.6" stroke="#5bab3f" stroke-width="1.1"/>
<circle cx="139.70" cy="188.2" r="1.9" fill="#5bab3f"/>
<line x1="150.50" y1="192.6" x2="150.50" y2="198.6" stroke="#5bab3f" stroke-width="0.9"/>
<line x1="148.30" y1="192.6" x2="152.70" y2="192.6" stroke="#5bab3f" stroke-width="1.1"/>
<line x1="148.30" y1="198.6" x2="152.70" y2="198.6" stroke="#5bab3f" stroke-width="1.1"/>
<circle cx="150.50" cy="195.6" r="1.9" fill="#5bab3f"/>
<line x1="205.1" y1="160" x2="205.1" y2="260.9" stroke="#111" stroke-width="1.5"/>
<line x1="204.35" y1="260.2" x2="305.6" y2="260.2" stroke="#111" stroke-width="1.5"/>
<line x1="201.79999999999998" y1="163" x2="205.1" y2="163" stroke="#111" stroke-width="1.3"/>
<text x="198.75" y="165.85" font-size="8.0" textLength="11.55" lengthAdjust="spacingAndGlyphs" text-anchor="end" >150</text>
<line x1="201.79999999999998" y1="195.4" x2="205.1" y2="195.4" stroke="#111" stroke-width="1.3"/>
<text x="198.75" y="198.25" font-size="8.0" textLength="11.55" lengthAdjust="spacingAndGlyphs" text-anchor="end" >100</text>
<line x1="201.79999999999998" y1="227.9" x2="205.1" y2="227.9" stroke="#111" stroke-width="1.3"/>
<text x="198.75" y="230.75" font-size="8.0" textLength="7.7" lengthAdjust="spacingAndGlyphs" text-anchor="end" >50</text>
<line x1="201.79999999999998" y1="260.2" x2="205.1" y2="260.2" stroke="#111" stroke-width="1.3"/>
<text x="198.75" y="263.05" font-size="8.0" textLength="3.85" lengthAdjust="spacingAndGlyphs" text-anchor="end" >0</text>
<line x1="215.90" y1="260.2" x2="215.90" y2="263.4" stroke="#111" stroke-width="1.2"/>
<line x1="226.70" y1="260.2" x2="226.70" y2="263.4" stroke="#111" stroke-width="1.2"/>
<line x1="237.50" y1="260.2" x2="237.50" y2="263.4" stroke="#111" stroke-width="1.2"/>
<line x1="248.30" y1="260.2" x2="248.30" y2="263.4" stroke="#111" stroke-width="1.2"/>
<line x1="259.10" y1="260.2" x2="259.10" y2="263.4" stroke="#111" stroke-width="1.2"/>
<line x1="269.90" y1="260.2" x2="269.90" y2="263.4" stroke="#111" stroke-width="1.2"/>
<line x1="280.70" y1="260.2" x2="280.70" y2="263.4" stroke="#111" stroke-width="1.2"/>
<line x1="291.50" y1="260.2" x2="291.50" y2="263.4" stroke="#111" stroke-width="1.2"/>
<line x1="302.30" y1="260.2" x2="302.30" y2="263.4" stroke="#111" stroke-width="1.2"/>
<line x1="205.1" y1="260.2" x2="205.1" y2="263.4" stroke="#111" stroke-width="1.2"/>
<text transform="translate(220.10 269.8) rotate(-45)" font-size="7.8" text-anchor="end" textLength="10" lengthAdjust="spacingAndGlyphs">5.0</text>
<text transform="translate(230.90 269.8) rotate(-45)" font-size="7.8" text-anchor="end" textLength="10" lengthAdjust="spacingAndGlyphs">2.5</text>
<text transform="translate(241.70 269.8) rotate(-45)" font-size="7.8" text-anchor="end" textLength="13.6" lengthAdjust="spacingAndGlyphs">1.25</text>
<text transform="translate(252.50 269.8) rotate(-45)" font-size="7.8" text-anchor="end" textLength="17.3" lengthAdjust="spacingAndGlyphs">0.625</text>
<text transform="translate(263.30 269.8) rotate(-45)" font-size="7.8" text-anchor="end" textLength="17.3" lengthAdjust="spacingAndGlyphs">0.312</text>
<text transform="translate(274.10 269.8) rotate(-45)" font-size="7.8" text-anchor="end" textLength="13.6" lengthAdjust="spacingAndGlyphs">0.16</text>
<text transform="translate(284.90 269.8) rotate(-45)" font-size="7.8" text-anchor="end" textLength="13.6" lengthAdjust="spacingAndGlyphs">0.08</text>
<text transform="translate(295.70 269.8) rotate(-45)" font-size="7.8" text-anchor="end" textLength="13.6" lengthAdjust="spacingAndGlyphs">0.04</text>
<text transform="translate(306.50 269.8) rotate(-45)" font-size="7.8" text-anchor="end" textLength="13.6" lengthAdjust="spacingAndGlyphs">0.00</text>
<text x="230.6" y="154.3" font-size="8.3" textLength="49.4" lengthAdjust="spacingAndGlyphs" >HEL antigen</text>
<text x="221.70000000000002" y="297.3" font-size="9" textLength="67.9" lengthAdjust="spacingAndGlyphs" >[Protease] ug/ml</text>
<text transform="translate(179.0 210.0) rotate(-90)" font-size="8" text-anchor="middle" textLength="59.6" lengthAdjust="spacingAndGlyphs">% HEL antigen</text>
<polyline points="215.90,253.2 226.70,242.4 237.50,203 248.30,197.2 259.10,194.8 269.90,197 280.70,196.7 291.50,193.9 302.30,195.5" fill="none" stroke="#b3112e" stroke-width="1.1"/>
<line x1="215.90" y1="252.2" x2="215.90" y2="254.2" stroke="#b3112e" stroke-width="0.9"/>
<line x1="213.70" y1="252.2" x2="218.10" y2="252.2" stroke="#b3112e" stroke-width="1.1"/>
<line x1="213.70" y1="254.2" x2="218.10" y2="254.2" stroke="#b3112e" stroke-width="1.1"/>
<rect x="214.10" y="251.39999999999998" width="3.6" height="3.6" fill="#b3112e"/>
<line x1="226.70" y1="241.4" x2="226.70" y2="243.4" stroke="#b3112e" stroke-width="0.9"/>
<line x1="224.50" y1="241.4" x2="228.90" y2="241.4" stroke="#b3112e" stroke-width="1.1"/>
<line x1="224.50" y1="243.4" x2="228.90" y2="243.4" stroke="#b3112e" stroke-width="1.1"/>
<rect x="224.90" y="240.6" width="3.6" height="3.6" fill="#b3112e"/>
<line x1="237.50" y1="202" x2="237.50" y2="204" stroke="#b3112e" stroke-width="0.9"/>
<line x1="235.30" y1="202" x2="239.70" y2="202" stroke="#b3112e" stroke-width="1.1"/>
<line x1="235.30" y1="204" x2="239.70" y2="204" stroke="#b3112e" stroke-width="1.1"/>
<rect x="235.70" y="201.2" width="3.6" height="3.6" fill="#b3112e"/>
<line x1="248.30" y1="196.2" x2="248.30" y2="198.2" stroke="#b3112e" stroke-width="0.9"/>
<line x1="246.10" y1="196.2" x2="250.50" y2="196.2" stroke="#b3112e" stroke-width="1.1"/>
<line x1="246.10" y1="198.2" x2="250.50" y2="198.2" stroke="#b3112e" stroke-width="1.1"/>
<rect x="246.50" y="195.39999999999998" width="3.6" height="3.6" fill="#b3112e"/>
<line x1="259.10" y1="192.3" x2="259.10" y2="197.3" stroke="#b3112e" stroke-width="0.9"/>
<line x1="256.90" y1="192.3" x2="261.30" y2="192.3" stroke="#b3112e" stroke-width="1.1"/>
<line x1="256.90" y1="197.3" x2="261.30" y2="197.3" stroke="#b3112e" stroke-width="1.1"/>
<rect x="257.30" y="193.0" width="3.6" height="3.6" fill="#b3112e"/>
<line x1="269.90" y1="196" x2="269.90" y2="198" stroke="#b3112e" stroke-width="0.9"/>
<line x1="267.70" y1="196" x2="272.10" y2="196" stroke="#b3112e" stroke-width="1.1"/>
<line x1="267.70" y1="198" x2="272.10" y2="198" stroke="#b3112e" stroke-width="1.1"/>
<rect x="268.10" y="195.2" width="3.6" height="3.6" fill="#b3112e"/>
<line x1="280.70" y1="195.7" x2="280.70" y2="197.7" stroke="#b3112e" stroke-width="0.9"/>
<line x1="278.50" y1="195.7" x2="282.90" y2="195.7" stroke="#b3112e" stroke-width="1.1"/>
<line x1="278.50" y1="197.7" x2="282.90" y2="197.7" stroke="#b3112e" stroke-width="1.1"/>
<rect x="278.90" y="194.89999999999998" width="3.6" height="3.6" fill="#b3112e"/>
<line x1="291.50" y1="192.4" x2="291.50" y2="195.4" stroke="#b3112e" stroke-width="0.9"/>
<line x1="289.30" y1="192.4" x2="293.70" y2="192.4" stroke="#b3112e" stroke-width="1.1"/>
<line x1="289.30" y1="195.4" x2="293.70" y2="195.4" stroke="#b3112e" stroke-width="1.1"/>
<rect x="289.70" y="192.1" width="3.6" height="3.6" fill="#b3112e"/>
<line x1="302.30" y1="194.5" x2="302.30" y2="196.5" stroke="#b3112e" stroke-width="0.9"/>
<line x1="300.10" y1="194.5" x2="304.50" y2="194.5" stroke="#b3112e" stroke-width="1.1"/>
<line x1="300.10" y1="196.5" x2="304.50" y2="196.5" stroke="#b3112e" stroke-width="1.1"/>
<rect x="300.50" y="193.7" width="3.6" height="3.6" fill="#b3112e"/>
<polyline points="215.90,255.6 226.70,244.6 237.50,202.1 248.30,196.2 259.10,196 269.90,197 280.70,197.3 291.50,198.3 302.30,195.5" fill="none" stroke="#5bab3f" stroke-width="1.1"/>
<circle cx="215.90" cy="255.6" r="1.9" fill="#5bab3f"/>
<circle cx="226.70" cy="244.6" r="1.9" fill="#5bab3f"/>
<circle cx="237.50" cy="202.1" r="1.9" fill="#5bab3f"/>
<circle cx="248.30" cy="196.2" r="1.9" fill="#5bab3f"/>
<circle cx="259.10" cy="196" r="1.9" fill="#5bab3f"/>
<circle cx="269.90" cy="197" r="1.9" fill="#5bab3f"/>
<circle cx="280.70" cy="197.3" r="1.9" fill="#5bab3f"/>
<circle cx="291.50" cy="198.3" r="1.9" fill="#5bab3f"/>
<circle cx="302.30" cy="195.5" r="1.9" fill="#5bab3f"/>
<line x1="357.3" y1="160" x2="357.3" y2="260.9" stroke="#111" stroke-width="1.5"/>
<line x1="356.55" y1="260.2" x2="457.8" y2="260.2" stroke="#111" stroke-width="1.5"/>
<line x1="354.0" y1="163" x2="357.3" y2="163" stroke="#111" stroke-width="1.3"/>
<text x="350.95" y="165.85" font-size="8.0" textLength="11.55" lengthAdjust="spacingAndGlyphs" text-anchor="end" >150</text>
<line x1="354.0" y1="195.4" x2="357.3" y2="195.4" stroke="#111" stroke-width="1.3"/>
<text x="350.95" y="198.25" font-size="8.0" textLength="11.55" lengthAdjust="spacingAndGlyphs" text-anchor="end" >100</text>
<line x1="354.0" y1="227.9" x2="357.3" y2="227.9" stroke="#111" stroke-width="1.3"/>
<text x="350.95" y="230.75" font-size="8.0" textLength="7.7" lengthAdjust="spacingAndGlyphs" text-anchor="end" >50</text>
<line x1="354.0" y1="260.2" x2="357.3" y2="260.2" stroke="#111" stroke-width="1.3"/>
<text x="350.95" y="263.05" font-size="8.0" textLength="3.85" lengthAdjust="spacingAndGlyphs" text-anchor="end" >0</text>
<line x1="368.10" y1="260.2" x2="368.10" y2="263.4" stroke="#111" stroke-width="1.2"/>
<line x1="378.90" y1="260.2" x2="378.90" y2="263.4" stroke="#111" stroke-width="1.2"/>
<line x1="389.70" y1="260.2" x2="389.70" y2="263.4" stroke="#111" stroke-width="1.2"/>
<line x1="400.50" y1="260.2" x2="400.50" y2="263.4" stroke="#111" stroke-width="1.2"/>
<line x1="411.30" y1="260.2" x2="411.30" y2="263.4" stroke="#111" stroke-width="1.2"/>
<line x1="422.10" y1="260.2" x2="422.10" y2="263.4" stroke="#111" stroke-width="1.2"/>
<line x1="432.90" y1="260.2" x2="432.90" y2="263.4" stroke="#111" stroke-width="1.2"/>
<line x1="443.70" y1="260.2" x2="443.70" y2="263.4" stroke="#111" stroke-width="1.2"/>
<line x1="454.50" y1="260.2" x2="454.50" y2="263.4" stroke="#111" stroke-width="1.2"/>
<line x1="357.3" y1="260.2" x2="357.3" y2="263.4" stroke="#111" stroke-width="1.2"/>
<text transform="translate(372.30 269.8) rotate(-45)" font-size="7.8" text-anchor="end" textLength="10" lengthAdjust="spacingAndGlyphs">5.0</text>
<text transform="translate(383.10 269.8) rotate(-45)" font-size="7.8" text-anchor="end" textLength="10" lengthAdjust="spacingAndGlyphs">2.5</text>
<text transform="translate(393.90 269.8) rotate(-45)" font-size="7.8" text-anchor="end" textLength="13.6" lengthAdjust="spacingAndGlyphs">1.25</text>
<text transform="translate(404.70 269.8) rotate(-45)" font-size="7.8" text-anchor="end" textLength="17.3" lengthAdjust="spacingAndGlyphs">0.625</text>
<text transform="translate(415.50 269.8) rotate(-45)" font-size="7.8" text-anchor="end" textLength="17.3" lengthAdjust="spacingAndGlyphs">0.312</text>
<text transform="translate(426.30 269.8) rotate(-45)" font-size="7.8" text-anchor="end" textLength="13.6" lengthAdjust="spacingAndGlyphs">0.16</text>
<text transform="translate(437.10 269.8) rotate(-45)" font-size="7.8" text-anchor="end" textLength="13.6" lengthAdjust="spacingAndGlyphs">0.08</text>
<text transform="translate(447.90 269.8) rotate(-45)" font-size="7.8" text-anchor="end" textLength="13.6" lengthAdjust="spacingAndGlyphs">0.04</text>
<text transform="translate(458.70 269.8) rotate(-45)" font-size="7.8" text-anchor="end" textLength="13.6" lengthAdjust="spacingAndGlyphs">0.00</text>
<text x="377.9" y="154.3" font-size="8.3" textLength="60.9" lengthAdjust="spacingAndGlyphs" >Ter119 antigen</text>
<text x="374.0" y="297.3" font-size="9" textLength="67.9" lengthAdjust="spacingAndGlyphs" >[Protease] ug/ml</text>
<text transform="translate(331.2 209.1) rotate(-90)" font-size="8" text-anchor="middle" textLength="68.6" lengthAdjust="spacingAndGlyphs">% Ter119 antigen</text>
<polyline points="368.10,194.7 378.90,194 389.70,198.1 400.50,194.5 411.30,195.6 422.10,196 432.90,198.7 443.70,198.2 454.50,195.6" fill="none" stroke="#b3112e" stroke-width="1.1"/>
<line x1="368.10" y1="192.1" x2="368.10" y2="197.29999999999998" stroke="#b3112e" stroke-width="0.9"/>
<line x1="365.90" y1="192.1" x2="370.30" y2="192.1" stroke="#b3112e" stroke-width="1.1"/>
<line x1="365.90" y1="197.29999999999998" x2="370.30" y2="197.29999999999998" stroke="#b3112e" stroke-width="1.1"/>
<rect x="366.30" y="192.89999999999998" width="3.6" height="3.6" fill="#b3112e"/>
<line x1="378.90" y1="192" x2="378.90" y2="196" stroke="#b3112e" stroke-width="0.9"/>
<line x1="376.70" y1="192" x2="381.10" y2="192" stroke="#b3112e" stroke-width="1.1"/>
<line x1="376.70" y1="196" x2="381.10" y2="196" stroke="#b3112e" stroke-width="1.1"/>
<rect x="377.10" y="192.2" width="3.6" height="3.6" fill="#b3112e"/>
<line x1="389.70" y1="196.1" x2="389.70" y2="200.1" stroke="#b3112e" stroke-width="0.9"/>
<line x1="387.50" y1="196.1" x2="391.90" y2="196.1" stroke="#b3112e" stroke-width="1.1"/>
<line x1="387.50" y1="200.1" x2="391.90" y2="200.1" stroke="#b3112e" stroke-width="1.1"/>
<rect x="387.90" y="196.29999999999998" width="3.6" height="3.6" fill="#b3112e"/>
<line x1="400.50" y1="192.5" x2="400.50" y2="196.5" stroke="#b3112e" stroke-width="0.9"/>
<line x1="398.30" y1="192.5" x2="402.70" y2="192.5" stroke="#b3112e" stroke-width="1.1"/>
<line x1="398.30" y1="196.5" x2="402.70" y2="196.5" stroke="#b3112e" stroke-width="1.1"/>
<rect x="398.70" y="192.7" width="3.6" height="3.6" fill="#b3112e"/>
<line x1="411.30" y1="194.1" x2="411.30" y2="197.1" stroke="#b3112e" stroke-width="0.9"/>
<line x1="409.10" y1="194.1" x2="413.50" y2="194.1" stroke="#b3112e" stroke-width="1.1"/>
<line x1="409.10" y1="197.1" x2="413.50" y2="197.1" stroke="#b3112e" stroke-width="1.1"/>
<rect x="409.50" y="193.79999999999998" width="3.6" height="3.6" fill="#b3112e"/>
<line x1="422.10" y1="194.5" x2="422.10" y2="197.5" stroke="#b3112e" stroke-width="0.9"/>
<line x1="419.90" y1="194.5" x2="424.30" y2="194.5" stroke="#b3112e" stroke-width="1.1"/>
<line x1="419.90" y1="197.5" x2="424.30" y2="197.5" stroke="#b3112e" stroke-width="1.1"/>
<rect x="420.30" y="194.2" width="3.6" height="3.6" fill="#b3112e"/>
<line x1="432.90" y1="197.2" x2="432.90" y2="200.2" stroke="#b3112e" stroke-width="0.9"/>
<line x1="430.70" y1="197.2" x2="435.10" y2="197.2" stroke="#b3112e" stroke-width="1.1"/>
<line x1="430.70" y1="200.2" x2="435.10" y2="200.2" stroke="#b3112e" stroke-width="1.1"/>
<rect x="431.10" y="196.89999999999998" width="3.6" height="3.6" fill="#b3112e"/>
<line x1="443.70" y1="196.2" x2="443.70" y2="200.2" stroke="#b3112e" stroke-width="0.9"/>
<line x1="441.50" y1="196.2" x2="445.90" y2="196.2" stroke="#b3112e" stroke-width="1.1"/>
<line x1="441.50" y1="200.2" x2="445.90" y2="200.2" stroke="#b3112e" stroke-width="1.1"/>
<rect x="441.90" y="196.39999999999998" width="3.6" height="3.6" fill="#b3112e"/>
<line x1="454.50" y1="194.1" x2="454.50" y2="197.1" stroke="#b3112e" stroke-width="0.9"/>
<line x1="452.30" y1="194.1" x2="456.70" y2="194.1" stroke="#b3112e" stroke-width="1.1"/>
<line x1="452.30" y1="197.1" x2="456.70" y2="197.1" stroke="#b3112e" stroke-width="1.1"/>
<rect x="452.70" y="193.79999999999998" width="3.6" height="3.6" fill="#b3112e"/>
<polyline points="368.10,194.7 378.90,192.5 389.70,196.2 400.50,189.8 411.30,193.3 422.10,194.5 432.90,194.5 443.70,193.5 454.50,195.6" fill="none" stroke="#2a4b8d" stroke-width="1.1"/>
<line x1="368.10" y1="188.0" x2="368.10" y2="201.39999999999998" stroke="#2a4b8d" stroke-width="0.9"/>
<line x1="365.90" y1="188.0" x2="370.30" y2="188.0" stroke="#2a4b8d" stroke-width="1.1"/>
<line x1="365.90" y1="201.39999999999998" x2="370.30" y2="201.39999999999998" stroke="#2a4b8d" stroke-width="1.1"/>
<rect x="366.30" y="192.89999999999998" width="3.6" height="3.6" fill="#2a4b8d"/>
<line x1="378.90" y1="188.5" x2="378.90" y2="196.5" stroke="#2a4b8d" stroke-width="0.9"/>
<line x1="376.70" y1="188.5" x2="381.10" y2="188.5" stroke="#2a4b8d" stroke-width="1.1"/>
<line x1="376.70" y1="196.5" x2="381.10" y2="196.5" stroke="#2a4b8d" stroke-width="1.1"/>
<rect x="377.10" y="190.7" width="3.6" height="3.6" fill="#2a4b8d"/>
<line x1="389.70" y1="193.7" x2="389.70" y2="198.7" stroke="#2a4b8d" stroke-width="0.9"/>
<line x1="387.50" y1="193.7" x2="391.90" y2="193.7" stroke="#2a4b8d" stroke-width="1.1"/>
<line x1="387.50" y1="198.7" x2="391.90" y2="198.7" stroke="#2a4b8d" stroke-width="1.1"/>
<rect x="387.90" y="194.39999999999998" width="3.6" height="3.6" fill="#2a4b8d"/>
<line x1="400.50" y1="185.60000000000002" x2="400.50" y2="194.0" stroke="#2a4b8d" stroke-width="0.9"/>
<line x1="398.30" y1="185.60000000000002" x2="402.70" y2="185.60000000000002" stroke="#2a4b8d" stroke-width="1.1"/>
<line x1="398.30" y1="194.0" x2="402.70" y2="194.0" stroke="#2a4b8d" stroke-width="1.1"/>
<rect x="398.70" y="188.0" width="3.6" height="3.6" fill="#2a4b8d"/>
<line x1="411.30" y1="189.70000000000002" x2="411.30" y2="196.9" stroke="#2a4b8d" stroke-width="0.9"/>
<line x1="409.10" y1="189.70000000000002" x2="413.50" y2="189.70000000000002" stroke="#2a4b8d" stroke-width="1.1"/>
<line x1="409.10" y1="196.9" x2="413.50" y2="196.9" stroke="#2a4b8d" stroke-width="1.1"/>
<rect x="409.50" y="191.5" width="3.6" height="3.6" fill="#2a4b8d"/>
<line x1="422.10" y1="191.0" x2="422.10" y2="198.0" stroke="#2a4b8d" stroke-width="0.9"/>
<line x1="419.90" y1="191.0" x2="424.30" y2="191.0" stroke="#2a4b8d" stroke-width="1.1"/>
<line x1="419.90" y1="198.0" x2="424.30" y2="198.0" stroke="#2a4b8d" stroke-width="1.1"/>
<rect x="420.30" y="192.7" width="3.6" height="3.6" fill="#2a4b8d"/>
<line x1="432.90" y1="191.2" x2="432.90" y2="197.8" stroke="#2a4b8d" stroke-width="0.9"/>
<line x1="430.70" y1="191.2" x2="435.10" y2="191.2" stroke="#2a4b8d" stroke-width="1.1"/>
<line x1="430.70" y1="197.8" x2="435.10" y2="197.8" stroke="#2a4b8d" stroke-width="1.1"/>
<rect x="431.10" y="192.7" width="3.6" height="3.6" fill="#2a4b8d"/>
<line x1="443.70" y1="190.5" x2="443.70" y2="196.5" stroke="#2a4b8d" stroke-width="0.9"/>
<line x1="441.50" y1="190.5" x2="445.90" y2="190.5" stroke="#2a4b8d" stroke-width="1.1"/>
<line x1="441.50" y1="196.5" x2="445.90" y2="196.5" stroke="#2a4b8d" stroke-width="1.1"/>
<rect x="441.90" y="191.7" width="3.6" height="3.6" fill="#2a4b8d"/>
<line x1="454.50" y1="193.6" x2="454.50" y2="197.6" stroke="#2a4b8d" stroke-width="0.9"/>
<line x1="452.30" y1="193.6" x2="456.70" y2="193.6" stroke="#2a4b8d" stroke-width="1.1"/>
<line x1="452.30" y1="197.6" x2="456.70" y2="197.6" stroke="#2a4b8d" stroke-width="1.1"/>
<rect x="452.70" y="193.79999999999998" width="3.6" height="3.6" fill="#2a4b8d"/>
<polyline points="368.10,202 378.90,200.6 389.70,203 400.50,200.1 411.30,199.2 422.10,196.6 432.90,200.8 443.70,195.6 454.50,195.6" fill="none" stroke="#5bab3f" stroke-width="1.1"/>
<line x1="368.10" y1="198.8" x2="368.10" y2="205.2" stroke="#5bab3f" stroke-width="0.9"/>
<line x1="365.90" y1="198.8" x2="370.30" y2="198.8" stroke="#5bab3f" stroke-width="1.1"/>
<line x1="365.90" y1="205.2" x2="370.30" y2="205.2" stroke="#5bab3f" stroke-width="1.1"/>
<circle cx="368.10" cy="202" r="1.9" fill="#5bab3f"/>
<line x1="378.90" y1="197.9" x2="378.90" y2="203.29999999999998" stroke="#5bab3f" stroke-width="0.9"/>
<line x1="376.70" y1="197.9" x2="381.10" y2="197.9" stroke="#5bab3f" stroke-width="1.1"/>
<line x1="376.70" y1="203.29999999999998" x2="381.10" y2="203.29999999999998" stroke="#5bab3f" stroke-width="1.1"/>
<circle cx="378.90" cy="200.6" r="1.9" fill="#5bab3f"/>
<line x1="389.70" y1="200.4" x2="389.70" y2="205.6" stroke="#5bab3f" stroke-width="0.9"/>
<line x1="387.50" y1="200.4" x2="391.90" y2="200.4" stroke="#5bab3f" stroke-width="1.1"/>
<line x1="387.50" y1="205.6" x2="391.90" y2="205.6" stroke="#5bab3f" stroke-width="1.1"/>
<circle cx="389.70" cy="203" r="1.9" fill="#5bab3f"/>
<line x1="400.50" y1="196.6" x2="400.50" y2="203.6" stroke="#5bab3f" stroke-width="0.9"/>
<line x1="398.30" y1="196.6" x2="402.70" y2="196.6" stroke="#5bab3f" stroke-width="1.1"/>
<line x1="398.30" y1="203.6" x2="402.70" y2="203.6" stroke="#5bab3f" stroke-width="1.1"/>
<circle cx="400.50" cy="200.1" r="1.9" fill="#5bab3f"/>
<line x1="411.30" y1="196.39999999999998" x2="411.30" y2="202.0" stroke="#5bab3f" stroke-width="0.9"/>
<line x1="409.10" y1="196.39999999999998" x2="413.50" y2="196.39999999999998" stroke="#5bab3f" stroke-width="1.1"/>
<line x1="409.10" y1="202.0" x2="413.50" y2="202.0" stroke="#5bab3f" stroke-width="1.1"/>
<circle cx="411.30" cy="199.2" r="1.9" fill="#5bab3f"/>
<line x1="422.10" y1="191.6" x2="422.10" y2="201.6" stroke="#5bab3f" stroke-width="0.9"/>
<line x1="419.90" y1="191.6" x2="424.30" y2="191.6" stroke="#5bab3f" stroke-width="1.1"/>
<line x1="419.90" y1="201.6" x2="424.30" y2="201.6" stroke="#5bab3f" stroke-width="1.1"/>
<circle cx="422.10" cy="196.6" r="1.9" fill="#5bab3f"/>
<line x1="432.90" y1="198.70000000000002" x2="432.90" y2="202.9" stroke="#5bab3f" stroke-width="0.9"/>
<line x1="430.70" y1="198.70000000000002" x2="435.10" y2="198.70000000000002" stroke="#5bab3f" stroke-width="1.1"/>
<line x1="430.70" y1="202.9" x2="435.10" y2="202.9" stroke="#5bab3f" stroke-width="1.1"/>
<circle cx="432.90" cy="200.8" r="1.9" fill="#5bab3f"/>
<line x1="443.70" y1="191.7" x2="443.70" y2="199.5" stroke="#5bab3f" stroke-width="0.9"/>
<line x1="441.50" y1="191.7" x2="445.90" y2="191.7" stroke="#5bab3f" stroke-width="1.1"/>
<line x1="441.50" y1="199.5" x2="445.90" y2="199.5" stroke="#5bab3f" stroke-width="1.1"/>
<circle cx="443.70" cy="195.6" r="1.9" fill="#5bab3f"/>
<line x1="454.50" y1="191.2" x2="454.50" y2="200.0" stroke="#5bab3f" stroke-width="0.9"/>
<line x1="452.30" y1="191.2" x2="456.70" y2="191.2" stroke="#5bab3f" stroke-width="1.1"/>
<line x1="452.30" y1="200.0" x2="456.70" y2="200.0" stroke="#5bab3f" stroke-width="1.1"/>
<circle cx="454.50" cy="195.6" r="1.9" fill="#5bab3f"/>
<line x1="468" y1="191" x2="481.6" y2="191" stroke="#5bab3f" stroke-width="1.1"/>
<circle cx="474.8" cy="191" r="2.45" fill="#5bab3f"/>
<text x="488.6" y="194.5" font-size="8.2" textLength="12.3" lengthAdjust="spacingAndGlyphs" >PBS</text>
<line x1="468" y1="206.3" x2="481.6" y2="206.3" stroke="#2a4b8d" stroke-width="1.1"/>
<circle cx="474.8" cy="206.3" r="2.45" fill="#2a4b8d"/>
<text x="488.6" y="209.8" font-size="8.2" textLength="12.3" lengthAdjust="spacingAndGlyphs" >KEL</text>
<line x1="468" y1="221.7" x2="481.6" y2="221.7" stroke="#b3112e" stroke-width="1.1"/>
<circle cx="474.8" cy="221.7" r="2.45" fill="#b3112e"/>
<text x="488.6" y="225.2" font-size="8.2" textLength="12.3" lengthAdjust="spacingAndGlyphs" >HEL</text>
</svg></body></html>
